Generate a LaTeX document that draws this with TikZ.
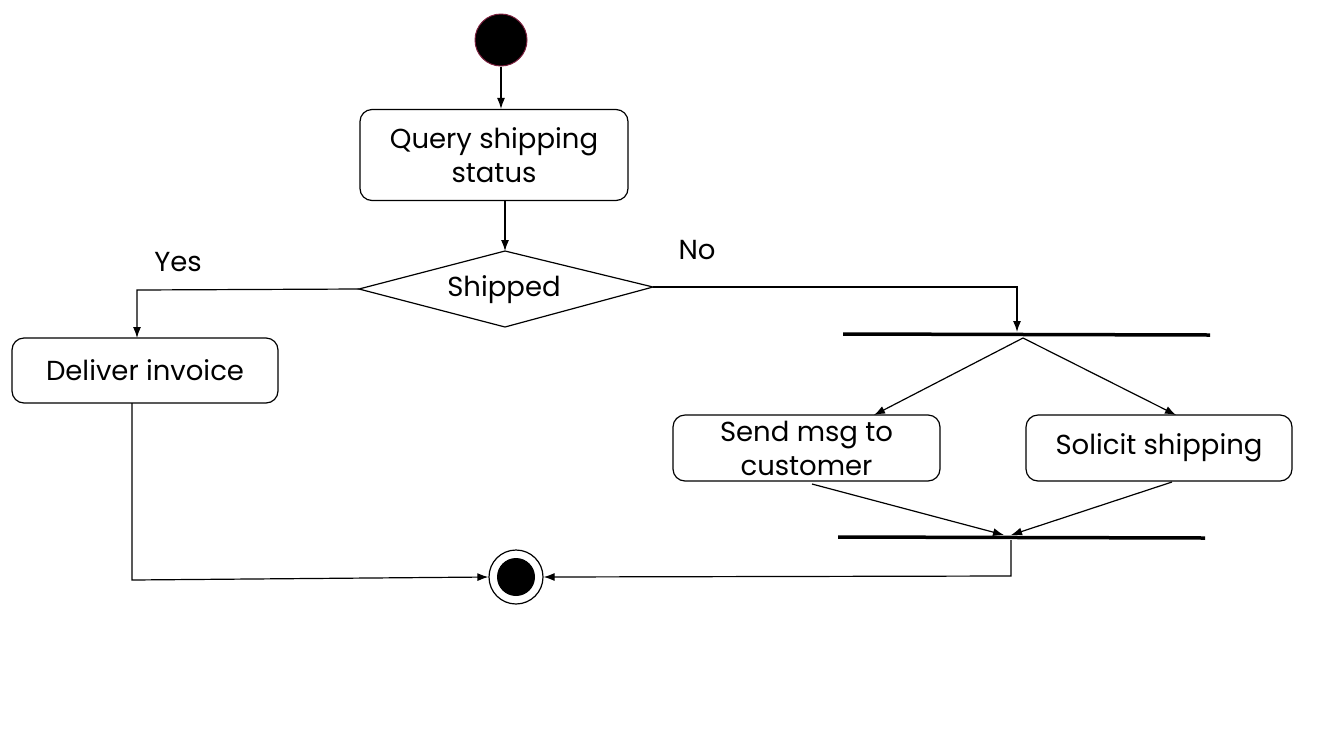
\documentclass[tikz,border=0pt]{standalone}
\usepackage{fontspec}
\setmainfont{Poppins}
\usetikzlibrary{arrows.meta,shapes.geometric}
\definecolor{startrim}{HTML}{7A1F3D}
\tikzset{
  every node/.style={font=\fontsize{27.5}{34}\selectfont},
  act/.style={draw,line width=1.2pt,rounded corners=12pt,align=center,inner sep=0pt},
  conn/.style={line width=1.2pt,-{Latex[length=11pt,width=8pt]}},
  bar/.style={line width=3.5pt},
  lbl/.style={inner sep=0pt}
}
\begin{document}
\begin{tikzpicture}[x=1pt,y=-1pt]
\useasboundingbox (0,0) rectangle (1328,732);
% start
\node (start) [circle,fill=black,draw=startrim,line width=1pt,minimum size=52pt,inner sep=0pt] at (501,40) {};
% query
\node (query) [act,minimum width=268pt,minimum height=91pt] at (494,155) {Query shipping\\status};
% decision
\path[draw,line width=1.2pt] (359,289) coordinate (dl) -- (505,251) coordinate (dt) -- (653,287) coordinate (dr) -- (505,327) coordinate (db) -- cycle;
\node (dec) [lbl] at (504,290) {Shipped};
% deliver
\node (deliver) [act,minimum width=266pt,minimum height=65pt] at (145,370.5) {Deliver invoice};
% fork/join bars
\draw[bar] (843,334) coordinate (forkL) -- (1210,335) coordinate (forkR);
\draw[bar] (838,537) coordinate (joinL) -- (1205,538) coordinate (joinR);
\coordinate (forkIn) at (1017,332);
\coordinate (forkOut) at (1023,338);
\coordinate (joinIn1) at (1004,535);
\coordinate (joinIn2) at (1011,535);
\coordinate (joinOut) at (1011,540);
% activities
\node (send) [act,minimum width=267pt,minimum height=66pt] at (806.5,448) {Send msg to\\customer};
\node (solicit) [act,minimum width=266pt,minimum height=66pt] at (1159,448) {Solicit shipping};
% end
\node (endo) [circle,draw,line width=1.2pt,minimum size=54pt,inner sep=0pt] at (516,577) {};
\node (endi) [circle,fill=black,minimum size=38pt,inner sep=0pt] at (516,577) {};
% labels
\node (yes) [lbl] at (178,262) {Yes};
\node (no) [lbl] at (697,250) {No};
% connectors
\draw[conn] (start.south) -- (start.south |- query.north);
\draw[conn] (query.south -| dt) -- (dt);
\draw[conn] (dl) -- (137,290) -- (137,338);
\draw[conn] (dr) -- (1017,287) -- (forkIn);
\draw[conn] (forkOut) -- (874,415);
\draw[conn] (forkOut) -- (1176,415);
\draw[conn] (812,484) -- (joinIn1);
\draw[conn] (1172,482) -- (joinIn2);
\draw[conn] (132,403) -- (132,580) -- (endo.west);
\draw[conn] (joinOut) -- (1011,576) -- (endo.east);
\end{tikzpicture}
\end{document}
